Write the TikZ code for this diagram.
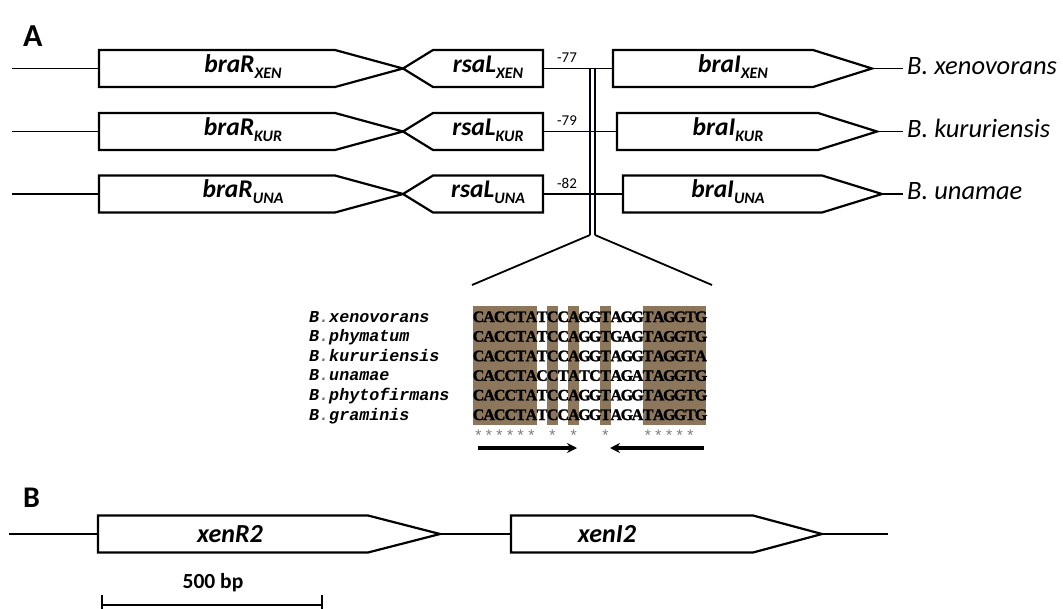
\documentclass[tikz,border=0pt]{standalone}
\usepackage{fontspec}
\setmainfont{Carlito}
\newfontfamily\alnfont{Liberation Mono}
\newfontfamily\seqfont[BoldFeatures={FakeBold=1.5}]{Liberation Serif}
\usetikzlibrary{arrows.meta}
\definecolor{shadebrown}{RGB}{140,118,92}
\definecolor{stargray}{RGB}{125,125,125}
\definecolor{dotgray}{RGB}{120,120,120}

\newcommand{\gname}[2]{{\fontsize{25.5}{25.5}\selectfont\bfseries\itshape #1}\raisebox{-6pt}{\fontsize{16}{16}\selectfont\bfseries\itshape #2}}
\newcommand{\spname}[2]{{\alnfont\bfseries\itshape #1{\color{dotgray}.}#2}}

\makeatletter
\def\seqrow#1{\seq@aux#1\relax}
\def\seq@aux#1{\ifx#1\relax\else\makebox[10.6pt]{#1}\expandafter\seq@aux\fi}
\makeatother

% name, x1, x2, xtip, yc, h   (pointing right)
\newcommand{\generight}[6]{%
  \draw[gene] (#2,#5-#6) -- (#3,#5-#6) -- (#4,#5) -- (#3,#5+#6) -- (#2,#5+#6) -- cycle;
  \coordinate (#1-l) at (#2,#5);
  \coordinate (#1-r) at (#4,#5);}
% name, xtip, x1, x2, yc, h   (pointing left)
\newcommand{\geneleft}[6]{%
  \draw[gene] (#2,#5) -- (#3,#5-#6) -- (#4,#5-#6) -- (#4,#5+#6) -- (#3,#5+#6) -- cycle;
  \coordinate (#1-l) at (#2,#5);
  \coordinate (#1-r) at (#4,#5);}

\tikzset{
  gene/.style={draw=black, line width=2.2pt, fill=white, line join=miter},
  dnaline/.style={draw=black, line width=1.8pt},
  glabel/.style={anchor=base, inner sep=0pt},
  species/.style={anchor=base west, inner sep=2pt, font=\fontsize{26.5}{26.5}\selectfont\itshape},
  dist/.style={inner sep=0pt, font=\fontsize{15}{15}\selectfont},
  panel/.style={anchor=base west, inner sep=0pt, font=\bfseries},
  alnname/.style={anchor=base west, inner sep=0pt, font=\fontsize{16.7}{16.7}\selectfont},
  seqtext/.style={anchor=base west, inner sep=0pt, font=\seqfont\bfseries\fontsize{16}{16}\selectfont},
  shadebox/.style={fill=shadebrown, draw=none},
  consstar/.style={inner sep=0pt, text=stargray, font=\alnfont\fontsize{16}{16}\selectfont},
  primer/.style={draw=black, line width=3.2pt, -{Stealth[length=10pt,width=10pt]}},
  fan/.style={draw=black, line width=1.8pt},
  vline/.style={draw=black!90!blue, line width=2pt},
  scalebar/.style={draw=black, line width=2.8pt},
}

\begin{document}
\begin{tikzpicture}[x=1pt,y=-1pt]
\useasboundingbox (0,0) rectangle (1063,608);

% ---------------- Panel A ----------------
\node[panel, font=\fontsize{32}{32}\selectfont\bfseries] (labA) at (23,46) {A};

\coordinate (l1) at (12,68.5);
\coordinate (l2) at (12,131.5);
\coordinate (l3) at (12,194);
\coordinate (end1) at (903,68.5);
\coordinate (end2) at (903,131.5);
\coordinate (end3) at (903,194);

\coordinate (vtop1) at (590,68.5);
\coordinate (vtop2) at (595,68.5);
\coordinate (vbot1) at (590,235);
\coordinate (vbot2) at (595,235);
\coordinate (fanL) at (472,285);
\coordinate (fanR) at (712,285);

\draw[dnaline] (l1) -- (99,68.5);
\draw[dnaline] (l2) -- (99,131.5);
\draw[dnaline] (l3) -- (99,194);

\generight{rxen}{99}{335}{403}{68.5}{18.5}
\geneleft{sxen}{403}{433}{543}{68.5}{18.5}
\generight{ixen}{613}{813}{872}{68.5}{18.5}
\generight{rkur}{99}{335}{403}{131.5}{18.5}
\geneleft{skur}{403}{433}{543}{131.5}{18.5}
\generight{ikur}{617}{818}{877}{131.5}{18.5}
\generight{runa}{99}{335}{403}{194}{18.5}
\geneleft{suna}{403}{433}{543}{194}{18.5}
\generight{iuna}{623}{822}{882}{194}{18.5}

\draw[dnaline] (sxen-r) -- (ixen-l);
\draw[dnaline] (skur-r) -- (ikur-l);
\draw[dnaline] (suna-r) -- (iuna-l);
\draw[dnaline] (ixen-r) -- (end1);
\draw[dnaline] (ikur-r) -- (end2);
\draw[dnaline] (iuna-r) -- (end3);
\draw[vline] (vtop1) -- (vbot1);
\draw[vline] (vtop2) -- (vbot2);
\draw[fan] (vbot1) -- (fanL);
\draw[fan] (vbot2) -- (fanR);

\node[glabel] (trxen) at (243,72) {\gname{braR}{XEN}};
\node[glabel] (trkur) at (243,135) {\gname{braR}{KUR}};
\node[glabel] (truna) at (243,197.5) {\gname{braR}{UNA}};
\node[glabel] (tsxen) at (488,72) {\gname{rsaL}{XEN}};
\node[glabel] (tskur) at (488,135) {\gname{rsaL}{KUR}};
\node[glabel] (tsuna) at (488,197.5) {\gname{rsaL}{UNA}};
\node[glabel] (tixen) at (733,72) {\gname{braI}{XEN}};
\node[glabel] (tikur) at (728,135) {\gname{braI}{KUR}};
\node[glabel] (tiuna) at (728,197.5) {\gname{braI}{UNA}};

\node[dist] (d77) at (567,58) {-77};
\node[dist] (d79) at (567,121) {-79};
\node[dist] (d82) at (567,183.5) {-82};

\node[species] (spxen) at (905,74) {B. xenovorans};
\node[species] (spkur) at (905,137) {B. kururiensis};
\node[species] (spuna) at (905,199.5) {B. unamae};

% ---------------- alignment ----------------
\fill[shadebrown] (473,306) rectangle (536.6,425);
\fill[shadebrown] (547.2,306) rectangle (557.8,425);
\fill[shadebrown] (568.4,306) rectangle (579,425);
\fill[shadebrown] (600.2,306) rectangle (610.8,425);
\fill[shadebrown] (642.6,306) rectangle (706.2,425);

\node[alnname] (n1) at (309,322) {\spname{B}{xenovorans}};
\node[alnname] (n2) at (309,341.6) {\spname{B}{phymatum}};
\node[alnname] (n3) at (309,361.2) {\spname{B}{kururiensis}};
\node[alnname] (n4) at (309,380.8) {\spname{B}{unamae}};
\node[alnname] (n5) at (309,400.4) {\spname{B}{phytofirmans}};
\node[alnname] (n6) at (309,420) {\spname{B}{graminis}};

\node[seqtext] (q1) at (473,322) {\seqrow{CACCTATCCAGGTAGGTAGGTG}};
\node[seqtext] (q2) at (473,341.6) {\seqrow{CACCTATCCAGGTGAGTAGGTG}};
\node[seqtext] (q3) at (473,361.2) {\seqrow{CACCTATCCAGGTAGGTAGGTA}};
\node[seqtext] (q4) at (473,380.8) {\seqrow{CACCTACCTATCTAGATAGGTG}};
\node[seqtext] (q5) at (473,400.4) {\seqrow{CACCTATCCAGGTAGGTAGGTG}};
\node[seqtext] (q6) at (473,420) {\seqrow{CACCTATCCAGGTAGATAGGTG}};

\foreach \c in {1,2,3,4,5,6,8,10,13,17,18,19,20,21}
  \node[consstar] (st\c) at (473+10.6*\c-5.3,436) {*};

\coordinate (p1s) at (478,448);
\coordinate (p1e) at (577,448);
\coordinate (p2s) at (704,448);
\coordinate (p2e) at (610,448);
\draw[primer] (p1s) -- (p1e);
\draw[primer] (p2s) -- (p2e);

% ---------------- Panel B ----------------
\node[panel, font=\fontsize{30}{30}\selectfont\bfseries] (labB) at (23,507) {B};
\coordinate (b0) at (9,534);
\coordinate (b9) at (888,534);
\draw[dnaline] (b0) -- (98,534);
\generight{xr}{98}{368}{440}{534}{18.5}
\generight{xi}{511}{753}{822}{534}{18.5}
\draw[dnaline] (xr-r) -- (xi-l);
\draw[dnaline] (xi-r) -- (b9);
\node[glabel, font=\fontsize{26}{26}\selectfont\bfseries\itshape] (txr) at (230,542) {xenR2};
\node[glabel, font=\fontsize{26}{26}\selectfont\bfseries\itshape] (txi) at (607,542) {xenI2};

\node[glabel, font=\fontsize{21.5}{21.5}\selectfont\bfseries] (sbl) at (213,588) {500 bp};
\coordinate (sb1) at (102,605);
\coordinate (sb2) at (322,605);
\coordinate (sb1t) at (102,595);
\coordinate (sb1b) at (102,615);
\coordinate (sb2t) at (322,595);
\coordinate (sb2b) at (322,615);
\draw[scalebar] (sb1) -- (sb2);
\draw[draw=black, line width=1.8pt] (sb1t) -- (sb1b);
\draw[draw=black, line width=1.8pt] (sb2t) -- (sb2b);
\end{tikzpicture}
\end{document}
